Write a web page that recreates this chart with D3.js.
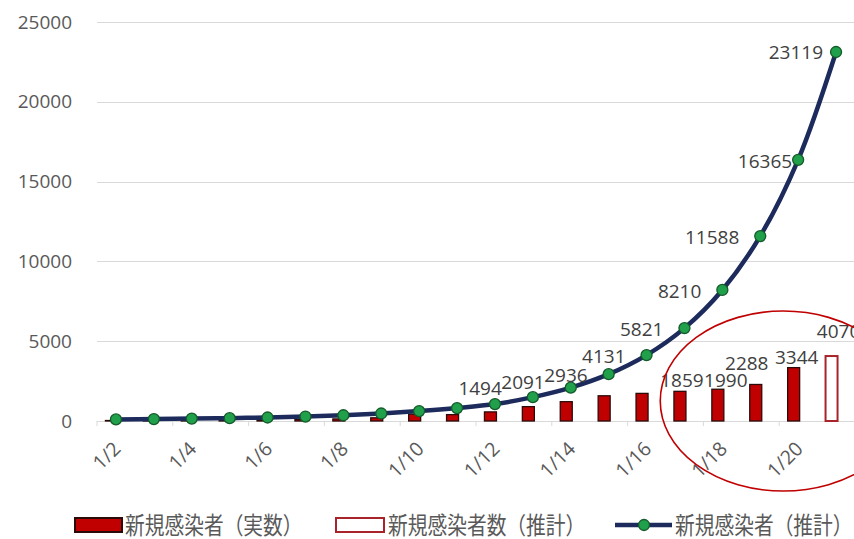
<!DOCTYPE html>
<html>
<head>
<meta charset="utf-8">
<script src="https://cdn.jsdelivr.net/npm/d3@7"></script>
<style>
  html, body { margin: 0; padding: 0; background: #fff; }
  svg { display: block; }
</style>
</head>
<body>
<svg id="chart" width="854" height="539"></svg>
<script>
// Daily new infections: reported counts (bars), estimated count (hollow bar), estimated curve (line)
const categories = ["1/2","1/3","1/4","1/5","1/6","1/7","1/8","1/9","1/10","1/11",
                    "1/12","1/13","1/14","1/15","1/16","1/17","1/18","1/19","1/20","1/21"];
const actualCases = [30, 40, 50, 60, 80, 100, 130, 200, 430, 400,
                     570, 900, 1210, 1580, 1730, 1859, 1990, 2288, 3344, null];
const estimatedBar = [null, null, null, null, null, null, null, null, null, null,
                      null, null, null, null, null, null, null, null, null, 4070];
const estimatedLine = [100, 120, 150, 180, 220, 280, 360, 470, 620, 810,
                       1060, 1494, 2091, 2936, 4131, 5821, 8210, 11588, 16365, 23119];
const yTicks = [0, 5000, 10000, 15000, 20000, 25000];
const tickLabels = ["1/2","1/4","1/6","1/8","1/10","1/12","1/14","1/16","1/18","1/20"];
const legendLabels = ["新規感染者（実数）", "新規感染者数（推計）", "新規感染者（推計）"];

const lineLabelFrom = 11;   // first category whose curve value is labelled
const barLabelFrom = 15;    // first category whose bar value is labelled
// hand-placed offsets [dx, dy] for labels that were moved to avoid crowding
const lineLabelNudge = { "1/13": [-10, -10], "1/14": [-5, -6.5], "1/20": [15, 0], "1/21": [8, -1] };
const barLabelNudge = { "1/17": [2, 0], "1/18": [8, 2], "1/19": [-9, -10], "1/20": [3, 0], "1/21": [7, -14] };
const nudge = (m, c, k) => (m[c] ? m[c][k] : 0);

const svg = d3.select("#chart");
const numFont = "'Open Sans', 'DejaVu Sans', sans-serif";
const cjkFont = "'Noto Sans CJK JP', 'Noto Sans', sans-serif";

const x = d3.scaleBand().domain(categories).range([97, 855]).paddingInner(0).paddingOuter(0);
const y = d3.scaleLinear().domain([0, 25000]).range([421, 22]);
const cx = c => x(c) + x.bandwidth() / 2;
const barW = 12;
const barShift = -4.5;

// horizontal gridlines
svg.append("g").selectAll("line").data(yTicks).join("line")
  .attr("x1", 97).attr("x2", 854)
  .attr("y1", d => Math.round(y(d)) + 0.5).attr("y2", d => Math.round(y(d)) + 0.5)
  .attr("stroke", "#d9d9d9").attr("stroke-width", 1.2);

// y axis labels
svg.append("g").selectAll("text").data(yTicks).join("text")
  .attr("x", 72).attr("y", d => y(d)).attr("dy", "0.35em")
  .attr("text-anchor", "end")
  .attr("font-family", numFont).attr("font-size", 19)
  .attr("fill", "#595959")
  .text(d => d);

// x axis tick marks every second category boundary
const tickEdges = categories.filter((c, i) => i % 2 === 0).map(c => x(c));
svg.append("g").selectAll("line").data(tickEdges).join("line")
  .attr("x1", d => d).attr("x2", d => d)
  .attr("y1", 421).attr("y2", 426)
  .attr("stroke", "#d9d9d9").attr("stroke-width", 1);

// rotated category labels
svg.append("g").selectAll("text").data(tickLabels).join("text")
  .attr("transform", d => `translate(${cx(d) + 6},${450}) rotate(-45)`)
  .attr("text-anchor", "end")
  .attr("font-family", numFont).attr("font-size", 19.5)
  .attr("fill", "#595959")
  .text(d => d);

// reported bars
const actualData = categories.map((c, i) => ({ c, v: actualCases[i] })).filter(d => d.v != null);
svg.append("g").selectAll("rect").data(actualData).join("rect")
  .attr("x", d => cx(d.c) + barShift - barW / 2)
  .attr("y", d => y(d.v))
  .attr("width", barW)
  .attr("height", d => y(0) - y(d.v))
  .attr("fill", "#c00000")
  .attr("stroke", "#2b0a0a").attr("stroke-width", 1.3);

// estimated bar (hollow)
const estBarData = categories.map((c, i) => ({ c, v: estimatedBar[i] })).filter(d => d.v != null);
svg.append("g").selectAll("rect").data(estBarData).join("rect")
  .attr("x", d => cx(d.c) + barShift - barW / 2)
  .attr("y", d => y(d.v))
  .attr("width", barW)
  .attr("height", d => y(0) - y(d.v))
  .attr("fill", "#fff")
  .attr("stroke", "#a8232a").attr("stroke-width", 2);

// estimated curve
const lineData = categories.map((c, i) => ({ c, v: estimatedLine[i] }));
svg.append("path")
  .datum(lineData)
  .attr("d", d3.line().x(d => cx(d.c)).y(d => y(d.v)).curve(d3.curveCatmullRom.alpha(0.5)))
  .attr("fill", "none")
  .attr("stroke", "#1c2a5c").attr("stroke-width", 4.5)
  .attr("stroke-linejoin", "round");

svg.append("g").selectAll("circle").data(lineData).join("circle")
  .attr("cx", d => cx(d.c)).attr("cy", d => y(d.v)).attr("r", 5.5)
  .attr("fill", "#20a04b").attr("stroke", "#145a2a").attr("stroke-width", 1.3);

// curve value labels, left of each point
svg.append("g").selectAll("text").data(lineData.slice(lineLabelFrom)).join("text")
  .attr("x", d => cx(d.c) - 21 + nudge(lineLabelNudge, d.c, 0))
  .attr("y", d => y(d.v) + 1.5 + nudge(lineLabelNudge, d.c, 1))
  .attr("dy", "0.35em")
  .attr("text-anchor", "end")
  .attr("font-family", numFont).attr("font-size", 19)
  .attr("fill", "#404040")
  .text(d => d.v);

// bar value labels
const barLabelData = categories.map((c, i) => ({ c, v: actualCases[i] != null ? actualCases[i] : estimatedBar[i] }))
  .slice(barLabelFrom);
svg.append("g").selectAll("text").data(barLabelData).join("text")
  .attr("x", d => cx(d.c) + barShift + nudge(barLabelNudge, d.c, 0))
  .attr("y", d => y(d.v) - 4 + nudge(barLabelNudge, d.c, 1))
  .attr("text-anchor", "middle")
  .attr("font-family", numFont).attr("font-size", 19)
  .attr("fill", "#404040")
  .text(d => d.v);

// highlight ellipse around the most recent days
svg.append("ellipse")
  .attr("cx", cx("1/19") + 23).attr("cy", y(1250))
  .attr("rx", 123).attr("ry", 90)
  .attr("fill", "none").attr("stroke", "#c00000").attr("stroke-width", 1.6);

// legend
const lg = svg.append("g");
lg.append("rect").attr("x", 75).attr("y", 518).attr("width", 47).attr("height", 14)
  .attr("fill", "#c00000").attr("stroke", "#2b0a0a").attr("stroke-width", 2);
lg.append("rect").attr("x", 336).attr("y", 518).attr("width", 48).attr("height", 14)
  .attr("fill", "#fff").attr("stroke", "#a8232a").attr("stroke-width", 2);
lg.append("line").attr("x1", 615).attr("x2", 672).attr("y1", 525).attr("y2", 525)
  .attr("stroke", "#1c2a5c").attr("stroke-width", 4.5);
lg.append("circle").attr("cx", 644).attr("cy", 525).attr("r", 5.5)
  .attr("fill", "#20a04b").attr("stroke", "#145a2a").attr("stroke-width", 1.3);

// condensed legend labels
const legendX = [125, 388, 675];
const condense = 0.84;
lg.selectAll("text.lt").data(legendLabels).join("text")
  .attr("class", "lt")
  .attr("transform", (d, i) => `translate(${legendX[i]},534) scale(${condense},1)`)
  .attr("font-family", cjkFont).attr("font-size", 23.5)
  .attr("fill", "#595959")
  .text(d => d);
</script>
</body>
</html>
